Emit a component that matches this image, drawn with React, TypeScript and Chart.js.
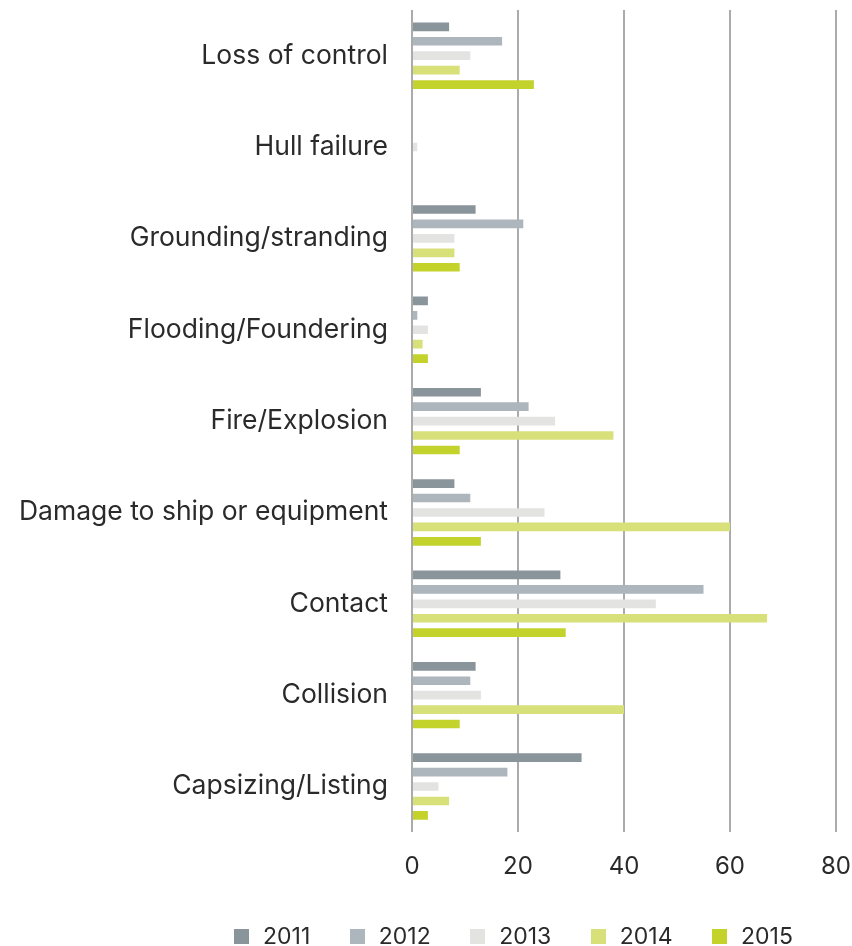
import React, { useEffect, useRef } from "react";
import { Chart, registerables } from "chart.js";

Chart.register(...registerables);

const categories = [
  "Loss of control",
  "Hull failure",
  "Grounding/stranding",
  "Flooding/Foundering",
  "Fire/Explosion",
  "Damage to ship or equipment",
  "Contact",
  "Collision",
  "Capsizing/Listing",
];

const years = ["2011", "2012", "2013", "2014", "2015"];

const values2011 = [7, 0, 12, 3, 13, 8, 28, 12, 32];
const values2012 = [17, 0, 21, 1, 22, 11, 55, 11, 18];
const values2013 = [11, 1, 8, 3, 27, 25, 46, 13, 5];
const values2014 = [9, 0, 8, 2, 38, 60, 67, 40, 7];
const values2015 = [23, 0, 9, 3, 9, 13, 29, 9, 3];

const xTicks = [0, 20, 40, 60, 80];

const colors = ["#8a959b", "#adb5bd", "#e3e3e2", "#d8e07a", "#c3d32c"];

const FONT = "Inter, 'Open Sans', sans-serif";
const TEXT = "#2a2a2a";

export default function App() {
  const ref = useRef<HTMLCanvasElement | null>(null);

  useEffect(() => {
    if (!ref.current) return;
    const series = [values2011, values2012, values2013, values2014, values2015];
    const chart = new Chart(ref.current, {
      type: "bar",
      data: {
        labels: categories,
        datasets: years.map((y, i) => ({
          label: y,
          data: series[i],
          backgroundColor: colors[i],
          borderWidth: 0,
          barPercentage: 0.6,
          categoryPercentage: 0.79,
        })),
      },
      options: {
        indexAxis: "y",
        responsive: false,
        animation: false,
        devicePixelRatio: 1,
        layout: { padding: { top: 10, right: 16, bottom: 45, left: 0 } },
        plugins: {
          legend: { display: false },
          tooltip: { enabled: false },
        },
        scales: {
          x: {
            min: 0,
            max: 80,
            afterBuildTicks: (scale: any) => {
              scale.ticks = xTicks.map((v) => ({ value: v }));
            },
            afterFit: (scale: any) => {
              scale.paddingLeft = 0;
              scale.paddingRight = 0;
            },
            grid: {
              color: "#ababab",
              lineWidth: 2,
              drawTicks: false,
            },
            border: { display: false },
            ticks: {
              padding: 20,
              color: TEXT,
              font: { family: FONT, size: 24 },
            },
          },
          y: {
            grid: { display: false, drawTicks: false },
            border: { display: false },
            afterFit: (scale: any) => {
              scale.width = 412;
              scale.paddingTop = 0;
              scale.paddingBottom = 0;
            },
            ticks: {
              padding: 24,
              color: TEXT,
              font: { family: FONT, size: 26.5 },
            },
          },
        },
      },
    });
    return () => chart.destroy();
  }, []);

  return (
    <div style={{ position: "fixed", left: 0, top: 0, width: 852, height: 946 }}>
      <canvas ref={ref} width={852} height={946} style={{ position: "absolute", left: 0, top: 0 }} />
      <div
        style={{
          position: "absolute",
          left: 234,
          top: 922,
          display: "flex",
          alignItems: "center",
          gap: 39.5,
          fontFamily: FONT,
          fontSize: 23,
          color: TEXT,
          lineHeight: "28px",
        }}
      >
        {years.map((y, i) => (
          <div key={y} style={{ display: "flex", alignItems: "center" }}>
            <span style={{ display: "inline-block", width: 15, height: 15, background: colors[i], marginRight: 14 }} />
            <span>{y}</span>
          </div>
        ))}
      </div>
    </div>
  );
}
